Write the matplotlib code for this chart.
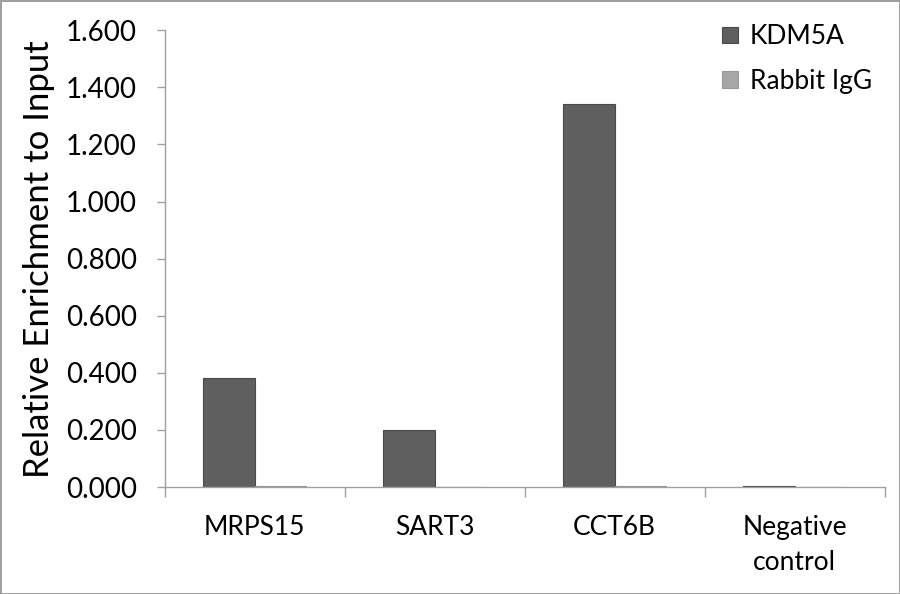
import numpy as np
import matplotlib
matplotlib.use("Agg")
import matplotlib.pyplot as plt
from matplotlib.ticker import FormatStrFormatter, FixedLocator

plt.rcParams['font.family'] = ['Lato', 'DejaVu Sans']

# データ
categories = ["MRPS15", "SART3", "CCT6B", "Negative\ncontrol"]
kdm5a = [0.382, 0.199, 1.343, 0.005]
rabbit_igg = [0.003, 0.002, 0.003, 0.002]
series_names = ["KDM5A", "Rabbit IgG"]

fig = plt.figure(figsize=(9, 5.94), dpi=100)
fig.patch.set_edgecolor('#a0a0a0')
fig.patch.set_linewidth(2)
ax = fig.add_axes([0.183, 0.18, 0.8, 0.769])

x = np.arange(len(categories))
w = 0.286
ax.bar(x - w / 2, kdm5a, w, color='#5f5f5f', edgecolor='#4a4a4a', linewidth=0.8, label=series_names[0])
ax.bar(x + w / 2, rabbit_igg, w, color='#a6a6a6', edgecolor='#999999', linewidth=0.8, label=series_names[1])

ax.set_xlim(-0.5, len(categories) - 0.5)
ax.set_ylim(0, 1.6)
ax.set_yticks(np.arange(0, 1.61, 0.2))
ax.yaxis.set_major_formatter(FormatStrFormatter('%.3f'))

# x軸: 区切りに目盛り
ax.set_xticks(x)
ax.set_xticklabels(categories, linespacing=1.5)
ax.xaxis.set_minor_locator(FixedLocator(np.arange(-0.5, len(categories), 1.0)))
ax.tick_params(axis='x', which='major', length=0, pad=20, labelsize=19)
ax.tick_params(axis='x', which='minor', length=7, color='#a0a0a0', width=1)
ax.tick_params(axis='y', length=6, color='#a0a0a0', width=1, labelsize=20, pad=14)

for s in ['top', 'right']:
    ax.spines[s].set_visible(False)
for s in ['left', 'bottom']:
    ax.spines[s].set_color('#a0a0a0')
    ax.spines[s].set_linewidth(1)

ax.set_ylabel("Relative Enrichment to Input", fontsize=25, labelpad=8)

ax.legend(loc='upper right', bbox_to_anchor=(1.015, 1.065), frameon=False, fontsize=19,
          handlelength=0.6, handleheight=0.6, handletextpad=0.45, labelspacing=0.75)

fig.savefig("out.png", dpi=100)
